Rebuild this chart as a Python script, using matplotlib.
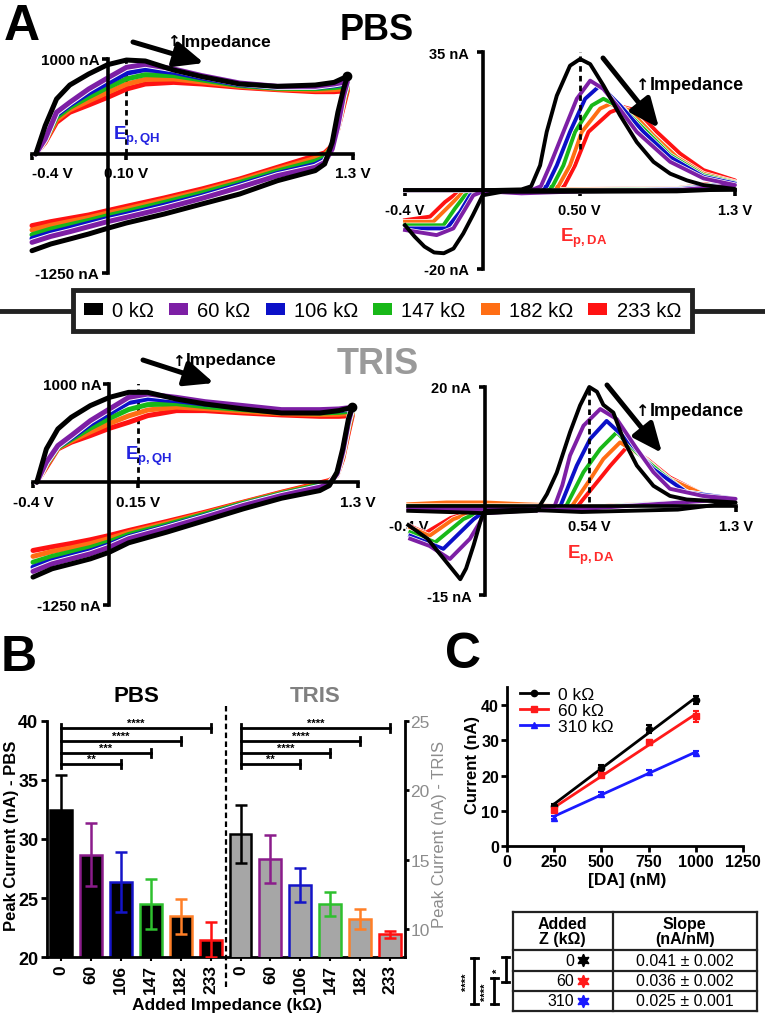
import numpy as np
import matplotlib
matplotlib.use('Agg')
import matplotlib.pyplot as plt
from matplotlib.patches import Patch
from matplotlib.lines import Line2D
import matplotlib.patheffects as pe

plt.rcParams['font.family'] = ['Liberation Sans', 'DejaVu Sans']
plt.rcParams['font.weight'] = 'bold'
plt.rcParams['axes.unicode_minus'] = False
plt.rcParams['mathtext.fontset'] = 'custom'
plt.rcParams['mathtext.rm'] = 'Liberation Sans:bold'
plt.rcParams['mathtext.bf'] = 'Liberation Sans:bold'
plt.rcParams['mathtext.it'] = 'Liberation Sans:bold'

SANS = ['Liberation Sans', 'DejaVu Sans']

# ---------------- data ----------------
imp_labels = ['0 kΩ', '60 kΩ', '106 kΩ', '147 kΩ', '182 kΩ', '233 kΩ']
imp_colors = ['#000000', '#7d1fa5', '#0b10c8', '#18b818', '#ff6e14', '#ff1212']

# cyclic voltammograms (nA) - forward / reverse sweep
cv_fwd_v = [-0.38, -0.33, -0.27, -0.2, -0.1, 0.0, 0.1, 0.2, 0.35, 0.5, 0.7, 0.9, 1.1, 1.2, 1.27]
cv_rev_v = [1.27, 1.25, 1.22, 1.19, 1.15, 1.1, 0.9, 0.7, 0.5, 0.3, 0.1, 0.0, -0.1, -0.2, -0.3, -0.4]

pbs_cv_fwd = [
    [0, 298, 579, 726, 842, 940, 989, 979, 884, 814, 737, 712, 726, 754, 818],
    [0, 158, 439, 544, 684, 800, 912, 944, 895, 825, 747, 712, 712, 737, 761],
    [0, 150, 410, 515, 640, 745, 850, 890, 860, 800, 730, 700, 700, 720, 740],
    [0, 142, 385, 490, 600, 700, 790, 835, 825, 780, 720, 692, 688, 700, 715],
    [0, 132, 358, 465, 558, 648, 735, 785, 790, 758, 712, 684, 672, 678, 690],
    [0, 123, 333, 439, 516, 596, 684, 737, 754, 737, 702, 677, 656, 656, 667],
]
pbs_cv_rev = [
    [818, 684, 439, 123, -105, -175, -281, -421, -526, -632, -726, -782, -842, -895, -947, -1018],
    [761, 614, 298, 53, -88, -140, -228, -351, -467, -572, -667, -712, -765, -818, -867, -930],
    [740, 590, 290, 70, -60, -110, -205, -325, -440, -540, -635, -680, -730, -780, -830, -890],
    [715, 565, 280, 80, -35, -75, -180, -300, -410, -510, -605, -650, -700, -745, -790, -850],
    [690, 540, 270, 85, -10, -45, -160, -280, -390, -485, -578, -622, -670, -710, -750, -800],
    [667, 509, 263, 88, 11, -18, -140, -263, -368, -463, -551, -596, -642, -677, -712, -754],
]
tris_cv_fwd = [
    [0, 339, 542, 661, 780, 864, 915, 915, 847, 797, 746, 705, 705, 729, 763],
    [0, 203, 373, 475, 627, 746, 864, 898, 864, 820, 780, 739, 739, 746, 763],
    [0, 190, 362, 450, 590, 700, 810, 850, 830, 795, 760, 725, 722, 730, 745],
    [0, 178, 352, 435, 550, 650, 740, 790, 800, 770, 740, 712, 705, 712, 725],
    [0, 165, 345, 420, 512, 598, 675, 735, 765, 750, 722, 698, 688, 692, 702],
    [0, 153, 339, 407, 475, 549, 610, 678, 729, 729, 705, 685, 671, 671, 678],
]
tris_cv_rev = [
    [763, 644, 339, 102, -34, -85, -163, -271, -390, -508, -617, -712, -780, -831, -881, -966],
    [763, 610, 305, 85, -17, -51, -136, -237, -356, -468, -576, -661, -729, -780, -831, -908],
    [745, 585, 290, 80, -10, -40, -125, -225, -340, -450, -555, -635, -700, -750, -800, -865],
    [725, 560, 270, 75, -2, -28, -115, -215, -325, -432, -532, -605, -665, -710, -755, -815],
    [702, 535, 252, 72, 8, -16, -108, -208, -315, -415, -512, -572, -625, -668, -705, -755],
    [678, 508, 237, 68, 17, -7, -102, -203, -305, -400, -492, -542, -586, -624, -658, -695],
]

# background-subtracted dopamine voltammograms (nA)
pbs_da_v = [
    [-0.4, 0.0, 0.2, 0.25, 0.296, 0.33, 0.382, 0.45, 0.502, 0.554, 0.622, 0.708, 0.794, 0.88, 0.966, 1.052, 1.138, 1.3,
     1.0, 0.5, 0.1, 0.0, -0.05, -0.1, -0.15, -0.2, -0.25, -0.3, -0.35, -0.4],
    [-0.4, 0.0, 0.25, 0.30, 0.347, 0.416, 0.485, 0.554, 0.622, 0.70, 0.794, 0.966, 1.138, 1.3,
     1.0, 0.5, 0.2, 0.004, -0.048, -0.099, -0.151, -0.237, -0.4],
    [-0.4, 0.0, 0.28, 0.33, 0.382, 0.45, 0.528, 0.605, 0.708, 0.829, 0.966, 1.138, 1.3,
     1.0, 0.5, 0.2, 0.004, -0.065, -0.116, -0.185, -0.4],
    [-0.4, 0.0, 0.31, 0.36, 0.416, 0.476, 0.562, 0.622, 0.725, 0.846, 0.966, 1.138, 1.3,
     1.0, 0.5, 0.2, -0.013, -0.091, -0.142, -0.202, -0.4],
    [-0.4, 0.0, 0.34, 0.39, 0.45, 0.511, 0.605, 0.657, 0.76, 0.88, 1.0, 1.138, 1.3,
     1.0, 0.5, 0.2, -0.031, -0.108, -0.168, -0.254, -0.4],
    [-0.4, 0.0, 0.37, 0.42, 0.476, 0.545, 0.657, 0.725, 0.794, 0.897, 1.017, 1.138, 1.3,
     1.0, 0.5, 0.2, -0.048, -0.134, -0.194, -0.271, -0.4],
]
pbs_da_i = [
    [0, 0, 0.2, 1.0, 6.3, 14.8, 24.0, 31.6, 33.3, 32.0, 26.6, 19.0, 12.2, 7.2, 4.2, 2.5, 1.3, 0.3,
     -0.3, -0.4, -0.4, -1.3, -6.3, -11.0, -14.8, -16.0, -15.8, -14.3, -11.8, -8.9],
    [0, 0, 0, 1.0, 6.3, 14.8, 23.2, 27.8, 25.7, 21.0, 14.8, 7.2, 3.0, 1.3,
     0, -0.3, -0.8, -0.25, -1.3, -5.5, -9.7, -11.4, -10.1],
    [0, 0, 0, 1.0, 6.3, 14.8, 23.2, 26.6, 21.5, 14.8, 8.4, 3.4, 1.7,
     0.2, -0.2, -0.6, -0.25, -1.3, -5.5, -9.7, -9.7],
    [0, 0, 0, 1.0, 6.3, 14.8, 21.5, 23.2, 20.7, 14.8, 8.9, 3.8, 1.9,
     0.3, 0, -0.4, -0.25, -1.3, -4.6, -8.9, -8.9],
    [0, 0, 0, 1.0, 6.3, 14.8, 20.7, 21.9, 20.2, 13.9, 8.4, 4.2, 2.1,
     0.4, 0.2, 0, -0.25, -0.8, -3.8, -8.0, -8.0],
    [0, 0, 0, 1.0, 6.3, 14.8, 19.8, 21.1, 20.2, 14.8, 9.3, 5.1, 2.5,
     0.5, 0.3, 0.1, -0.25, -0.8, -3.0, -6.7, -7.6],
]
tris_da_v = [
    [-0.4, 0.0, 0.267, 0.32, 0.371, 0.44, 0.492, 0.54, 0.58, 0.613, 0.665, 0.717, 0.787, 0.873, 0.959, 1.046, 1.3,
     1.0, 0.5, 0.2, 0.0, -0.02, -0.06, -0.1, -0.13, -0.2, -0.3, -0.4],
    [-0.4, 0.0, 0.36, 0.40, 0.44, 0.51, 0.597, 0.683, 0.787, 0.873, 0.959, 1.13, 1.3,
     0.5, 0.2, 0.0, -0.08, -0.184, -0.29, -0.39],
    [-0.4, 0.0, 0.39, 0.475, 0.545, 0.63, 0.75, 0.873, 1.046, 1.3,
     0.5, 0.2, 0.0, -0.06, -0.218, -0.39],
    [-0.4, 0.0, 0.42, 0.51, 0.597, 0.683, 0.787, 0.908, 1.046, 1.3,
     0.5, 0.0, -0.114, -0.26, -0.39],
    [-0.4, -0.2, 0.0, 0.2, 0.45, 0.545, 0.613, 0.70, 0.82, 0.959, 1.13, 1.3,
     0.5, 0.0, -0.166, -0.29, -0.39],
    [-0.4, 0.0, 0.48, 0.58, 0.65, 0.735, 0.84, 0.959, 1.13, 1.3,
     0.5, 0.0, -0.18, -0.31, -0.39],
]
tris_da_i = [
    [-0.8, -1.2, -0.8, 2.0, 5.6, 12.4, 16.9, 20.0, 19.2, 17.0, 15.7, 11.2, 6.8, 3.4, 1.7, 1.1, 0.6,
     -0.6, -1.0, -0.6, -0.8, -2.0, -6.5, -10.5, -12.3, -9.5, -5.5, -3.2],
    [-0.5, -0.5, 0, 3.5, 8.5, 13.5, 16.3, 14.6, 9.6, 5.7, 2.9, 1.7, 1.2,
     -0.5, -0.8, -1.2, -5.5, -8.9, -6.7, -5.5],
    [-0.3, -0.3, 0, 6.8, 11.3, 14.3, 10.7, 6.2, 2.3, 1.2,
     -0.4, -0.6, -0.8, -2.2, -7.2, -5.0],
    [0, 0, 0, 5.7, 9.6, 12.4, 9.0, 5.7, 2.3, 1.2,
     -0.3, -0.5, -2.2, -6.1, -4.4],
    [0.3, 0.6, 0.6, 0.3, 0, 4.5, 7.9, 10.7, 8.2, 4.5, 2.0, 1.2,
     -0.2, -0.3, -2.2, -5.0, -3.6],
    [0, 0.3, 0, 4.0, 6.8, 9.9, 7.9, 4.8, 2.0, 1.2,
     -0.2, -0.3, -2.0, -4.5, -3.4],
]

# panel B
b_imp = ['0', '60', '106', '147', '182', '233']
b_colors = ['#000000', '#8b1c8b', '#1414c8', '#2ec02e', '#ff7f27', '#ff1010']
pbs_peak = [32.45, 28.67, 26.39, 24.5, 23.46, 21.49]
pbs_err = [3.0, 2.65, 2.55, 2.1, 1.5, 1.5]
tris_peak = [16.86, 15.06, 13.19, 11.81, 10.75, 9.65]
tris_err = [2.08, 1.75, 1.25, 0.86, 0.72, 0.26]
sig_end = [2, 3, 4, 5]
sig_y = [36.34, 37.27, 38.31, 39.38]
pbs_sig = ['**', '***', '****', '****']
tris_sig = ['**', '****', '****', '****']

# panel C
da_conc = [250, 500, 750, 1000]
c_labels = ['0 kΩ', '60 kΩ', '310 kΩ']
c_colors = ['#000000', '#ff1a1a', '#1a1aff']
c_markers = ['o', 's', '^']
c_current = [[11.5, 22.1, 33.2, 41.4], [10.4, 20.3, 29.4, 36.8], [8.1, 14.9, 21.1, 26.3]]
c_err = [[0.5, 0.8, 1.2, 1.0], [0.6, 0.7, 0.8, 1.5], [0.4, 0.4, 0.5, 0.6]]
tab_z = ['0', '60', '310']
tab_slope = ['0.041 ± 0.002', '0.036 ± 0.002', '0.025 ± 0.001']

# ---------------- layout helpers (image pixels) ----------------
W, H = 765, 1020
fig = plt.figure(figsize=(W / 100, H / 100), dpi=100, facecolor='white')


def box(x0, y0, x1, y1):
    return [x0 / W, 1 - y1 / H, (x1 - x0) / W, (y1 - y0) / H]


def fp(x, y):
    return (x / W, 1 - y / H)


def ftext(x, y, s, **kw):
    fig.text(x / W, 1 - y / H, s, **kw)


def arrow(x0, y0, x1, y1):
    fig.add_artist(matplotlib.patches.FancyArrowPatch(
        fp(x0, y0), fp(x1, y1), transform=fig.transFigure,
        arrowstyle='-|>,head_length=1.1,head_width=0.48', mutation_scale=16,
        lw=3.6, color='black', shrinkA=0, shrinkB=0))


def cross_axes(rect, ylim, xt, xl, yt, yl, fs):
    ax = fig.add_axes(box(*rect))
    ax.set_xlim(-0.4, 1.3)
    ax.set_ylim(ylim)
    ax.patch.set_visible(False)
    for s in ('top', 'right'):
        ax.spines[s].set_visible(False)
    for s in ('left', 'bottom'):
        ax.spines[s].set_position(('data', 0))
        ax.spines[s].set_linewidth(2.6)
    ax.set_xticks(xt, xl, fontsize=fs, fontweight='bold')
    ax.set_yticks(yt, yl, fontsize=fs, fontweight='bold')
    ax.tick_params(axis='x', length=4, width=2.6, pad=5)
    ax.tick_params(axis='y', length=4, width=2.6, pad=2)
    return ax


def draw_cv(ax, fwd, rev):
    v = np.r_[cv_fwd_v, cv_rev_v]
    for k in range(5, -1, -1):
        eff = [pe.Stroke(linewidth=5.0, foreground='white'), pe.Normal()] if k == 1 else None
        ax.plot(v, np.r_[fwd[k], rev[k]], color=imp_colors[k], lw=3.6,
                clip_on=False, solid_joinstyle='round', solid_capstyle='round', path_effects=eff)
    ax.plot(cv_rev_v[0], rev[0][0], 'o', color='black', ms=6, clip_on=False)


def draw_da(ax, vs, cur):
    for k in range(5, -1, -1):
        eff = [pe.Stroke(linewidth=3.8, foreground='white'), pe.Normal()] if k else None
        ax.plot(vs[k], cur[k], color=imp_colors[k], lw=2.8, clip_on=False,
                solid_joinstyle='round', path_effects=eff)


# ---------------- panel A ----------------
ax1 = cross_axes((32, 60, 353, 273.75), (-1250, 1000), [-0.4, 0.1, 1.3], ['-0.4 V', '0.10 V', '1.3 V'],
                 [1000, -1250], ['1000 nA', '-1250 nA'], 11)
ax1.get_xticklabels()[0].set_ha('left')
ax1.plot([0.1, 0.1], [0, 1020], ls=(0, (2, 1.5)), color='black', lw=2)
draw_cv(ax1, pbs_cv_fwd, pbs_cv_rev)

ax2 = cross_axes((405, 53.3, 735, 270), (-20, 35), [-0.4, 0.5, 1.3], ['-0.4 V', '0.50 V', '1.3 V'],
                 [35, -20], ['35 nA', '-20 nA'], 10.5)
ax2.tick_params(axis='y', pad=6)
draw_da(ax2, pbs_da_v, pbs_da_i)
ax2.plot([0.5, 0.5], [10.5, 35.8], ls=(0, (2, 1.5)), color='black', lw=2)

ax3 = cross_axes((33, 385, 358, 606), (-1250, 1000), [-0.4, 0.15, 1.3], ['-0.4 V', '0.15 V', '1.3 V'],
                 [1000, -1250], ['1000 nA', '-1250 nA'], 11)
ax3.plot([0.15, 0.15], [0, 1140], ls=(0, (2, 1.5)), color='black', lw=2)
draw_cv(ax3, tris_cv_fwd, tris_cv_rev)

ax4 = cross_axes((408.3, 388, 735.6, 596.3), (-15, 20), [-0.4, 0.54, 1.3], ['-0.4 V', '0.54 V', '1.3 V'],
                 [20, -15], ['20 nA', '-15 nA'], 10.5)
ax4.tick_params(axis='y', pad=6)
draw_da(ax4, tris_da_v, tris_da_i)
ax4.plot([0.54, 0.54], [0.6, 19.9], ls=(0, (2, 1.5)), color='black', lw=2)

# annotations of panel A
ftext(22, 27, 'A', fontsize=36, ha='center', va='center')
ftext(377, 30, 'PBS', fontsize=26, ha='center', va='center')
ftext(378, 365, 'TRIS', fontsize=26, ha='center', va='center', color='#9a9a9a')
for (x0, y0, x1, y1) in [(133, 43, 204, 64), (603, 59, 659, 129), (143, 361, 214, 384), (607, 386, 662, 454)]:
    arrow(x0, y0, x1, y1)
for (x, y, fs) in [(167, 42, 12.5), (636, 85, 13), (172, 361, 12.5), (636, 412, 13)]:
    ftext(x, y, '↑', fontsize=fs - 1.5, ha='left', va='center', family=['DejaVu Sans'])
    ftext(x + 14, y, 'Impedance', fontsize=fs, ha='left', va='center')
ftext(113, 140, r'$\mathbf{E_{p,QH}}$', fontsize=13.5, color='#2323e0', ha='left', va='baseline')
ftext(125, 460, r'$\mathbf{E_{p,QH}}$', fontsize=13.5, color='#2323e0', ha='left', va='baseline')
ftext(560, 242, r'$\mathbf{E_{p,DA}}$', fontsize=13.5, color='#ff2a2a', ha='left', va='baseline')
ftext(567, 559, r'$\mathbf{E_{p,DA}}$', fontsize=13.5, color='#ff2a2a', ha='left', va='baseline')

# legend strip
fig.add_artist(Line2D([0, 1], [1 - 311.5 / H] * 2, transform=fig.transFigure, lw=3.5,
                      color='#222222', zorder=0))
leg = fig.legend([Patch(facecolor=c) for c in imp_colors], imp_labels, loc='center',
                 bbox_to_anchor=fp(382.5, 311.5), ncol=6, frameon=True, fancybox=False,
                 edgecolor='#222222', facecolor='white', framealpha=1,
                 handlelength=0.95, handleheight=0.6, handletextpad=0.45, columnspacing=0.75,
                 borderpad=0.55, prop={'family': SANS, 'size': 14.5, 'weight': 'normal'})
leg.get_frame().set_linewidth(3.5)
leg.set_zorder(10)

# ---------------- panel B ----------------
axB = fig.add_axes(box(46.7, 721.7, 405, 958.3))
axT = axB.twinx()
xpos = np.arange(12)
axB.set_xlim(-0.48, 11.5)
axB.set_ylim(20, 40)
axT.set_ylim(8, 25)
axB.bar(xpos[:6], pbs_peak, width=0.73, color='black', edgecolor=b_colors, linewidth=1.8, zorder=2)
axT.bar(xpos[6:], tris_peak, width=0.73, color='#a6a6a6', edgecolor=b_colors, linewidth=1.8, zorder=2)
for k in range(6):
    axB.errorbar(xpos[k], pbs_peak[k], yerr=pbs_err[k], fmt='none', ecolor=b_colors[k],
                 elinewidth=1.8, capsize=4, capthick=1.8, zorder=3)
    axT.errorbar(xpos[6 + k], tris_peak[k], yerr=tris_err[k], fmt='none', ecolor=b_colors[k],
                 elinewidth=1.8, capsize=4, capthick=1.8, zorder=3)
for start, stars in [(0, pbs_sig), (6, tris_sig)]:
    axB.plot([start, start], [sig_y[0] - 0.35, sig_y[-1] + 0.35], color='black', lw=2, clip_on=False)
    for end, yy, s in zip(sig_end, sig_y, stars):
        axB.plot([start, start + end], [yy, yy], color='black', lw=2, clip_on=False)
        axB.plot([start + end] * 2, [yy - 0.35, yy + 0.35], color='black', lw=2, clip_on=False)
        axB.text(start + end / 2, yy + 0.02, s, fontsize=8, ha='center', va='bottom')
axB.plot([5.5, 5.5], [17.5, 41.25], ls=(0, (2.5, 1.5)), color='black', lw=1.6, clip_on=False)
axB.text(2.53, 42.1, 'PBS', fontsize=16, ha='center', va='center')
axB.text(8.5, 42.1, 'TRIS', fontsize=16, ha='center', va='center', color='#808080')
axB.set_xticks(xpos, b_imp * 2, rotation=90, fontsize=12.5, fontweight='bold')
axB.set_yticks([20, 25, 30, 35, 40], ['20', '25', '30', '35', '40'], fontsize=13, fontweight='bold')
axT.set_yticks([10, 15, 20, 25], ['10', '15', '20', '25'], fontsize=12.5, fontweight='normal', color='#8c8c8c')
for a in (axB, axT):
    a.spines['top'].set_visible(False)
    for s in ('left', 'right', 'bottom'):
        a.spines[s].set_linewidth(2)
axT.spines['left'].set_visible(False)
axT.spines['bottom'].set_visible(False)
axB.spines['right'].set_visible(False)
axB.spines['left'].set_bounds(20, 40)
axT.spines['right'].set_bounds(8, 25)
axB.tick_params(axis='x', length=3, width=1.5, pad=2)
axB.tick_params(axis='y', length=4, width=2, pad=2)
axT.tick_params(axis='y', length=3, width=2, pad=1)
ftext(19, 658, 'B', fontsize=36, ha='center', va='center')
ftext(12, 836, 'Peak Current (nA) - PBS', fontsize=12, rotation=90, ha='center', va='center')
ftext(440, 835, 'Peak Current (nA) - TRIS', fontsize=12, rotation=90, ha='center', va='center',
      color='#8c8c8c', fontweight='normal')
ftext(227, 1006, 'Added Impedance (kΩ)', fontsize=12.5, ha='center', va='center')

# ---------------- panel C ----------------
axC = fig.add_axes(box(506.7, 688.3, 743.3, 847.3))
axC.set_xlim(0, 1250)
axC.set_ylim(0, 45)
for k in range(3):
    fit = np.polyfit(da_conc, c_current[k], 1)
    xx = np.array([da_conc[0], da_conc[-1]])
    axC.plot(xx, np.polyval(fit, xx), color=c_colors[k], lw=2)
    axC.errorbar(da_conc, c_current[k], yerr=c_err[k], fmt=c_markers[k], color=c_colors[k],
                 ms=4.5, elinewidth=1.5, capsize=2.5, capthick=1.5)
handles = [Line2D([], [], color=c, marker=m, ms=4.5, lw=2) for c, m in zip(c_colors, c_markers)]
axC.legend(handles, c_labels, loc='upper left', bbox_to_anchor=(-0.01, 1.1), frameon=False,
           handlelength=1.6, handletextpad=0.6, labelspacing=0.05,
           prop={'family': SANS, 'size': 12.5, 'weight': 'normal'})
axC.spines['top'].set_visible(False)
axC.spines['right'].set_visible(False)
axC.spines['left'].set_linewidth(2)
axC.spines['bottom'].set_linewidth(2)
axC.set_xticks([0, 250, 500, 750, 1000, 1250], ['0', '250', '500', '750', '1000', '1250'],
               fontsize=11.5, fontweight='bold')
axC.set_yticks([0, 10, 20, 30, 40], ['0', '10', '20', '30', '40'], fontsize=11.5, fontweight='bold')
axC.tick_params(length=4, width=2, pad=1.5)
ftext(463, 655, 'C', fontsize=36, ha='center', va='center')
ftext(473, 765, 'Current (nA)', fontsize=12, rotation=90, ha='center', va='center')
ftext(627, 880, '[DA] (nM)', fontsize=12.5, ha='center', va='center')

# slope table
axTb = fig.add_axes(box(455, 905, 765, 1018))
axTb.set_xlim(455, 765)
axTb.set_ylim(1018, 905)
axTb.axis('off')
col_edges = [512.7, 612.7, 756.7]
row_edges = [913.3, 950.7, 971.7, 991.7, 1011.7]
for y in row_edges:
    axTb.plot([col_edges[0], col_edges[-1]], [y, y], color='#222222', lw=1.6)
for x in col_edges:
    axTb.plot([x, x], [row_edges[0], row_edges[-1]], color='#222222', lw=1.6)
axTb.text(562.7, 932, 'Added\nZ (kΩ)', fontsize=11.5, ha='center', va='center', linespacing=1.05)
axTb.text(684.7, 932, 'Slope\n(nA/nM)', fontsize=11.5, ha='center', va='center', linespacing=1.05)
for k in range(3):
    yc = (row_edges[k + 1] + row_edges[k + 2]) / 2
    axTb.text(574, yc, tab_z[k], fontsize=11.5, ha='right', va='center', fontweight='normal')
    axTb.plot(583, yc, marker=(6, 1, 0), ms=9, color=c_colors[k], mec=c_colors[k])
    axTb.text(684.7, yc, tab_slope[k], fontsize=11.5, ha='center', va='center', fontweight='normal')
# significance between slopes
for xb, ya, yb, s, xs in [(474, 959, 1005, '****', 467), (494, 979, 1005, '****', 486), (505.7, 958, 983, '*', 498)]:
    axTb.plot([xb, xb], [ya, yb], color='black', lw=2)
    axTb.plot([xb - 3.5, xb + 3.5], [ya, ya], color='black', lw=2)
    axTb.plot([xb - 3.5, xb + 3.5], [yb, yb], color='black', lw=2)
    axTb.text(xs, (ya + yb) / 2, s, fontsize=8, rotation=90, ha='center', va='center')

fig.savefig('out.png', dpi=100, facecolor='white')
